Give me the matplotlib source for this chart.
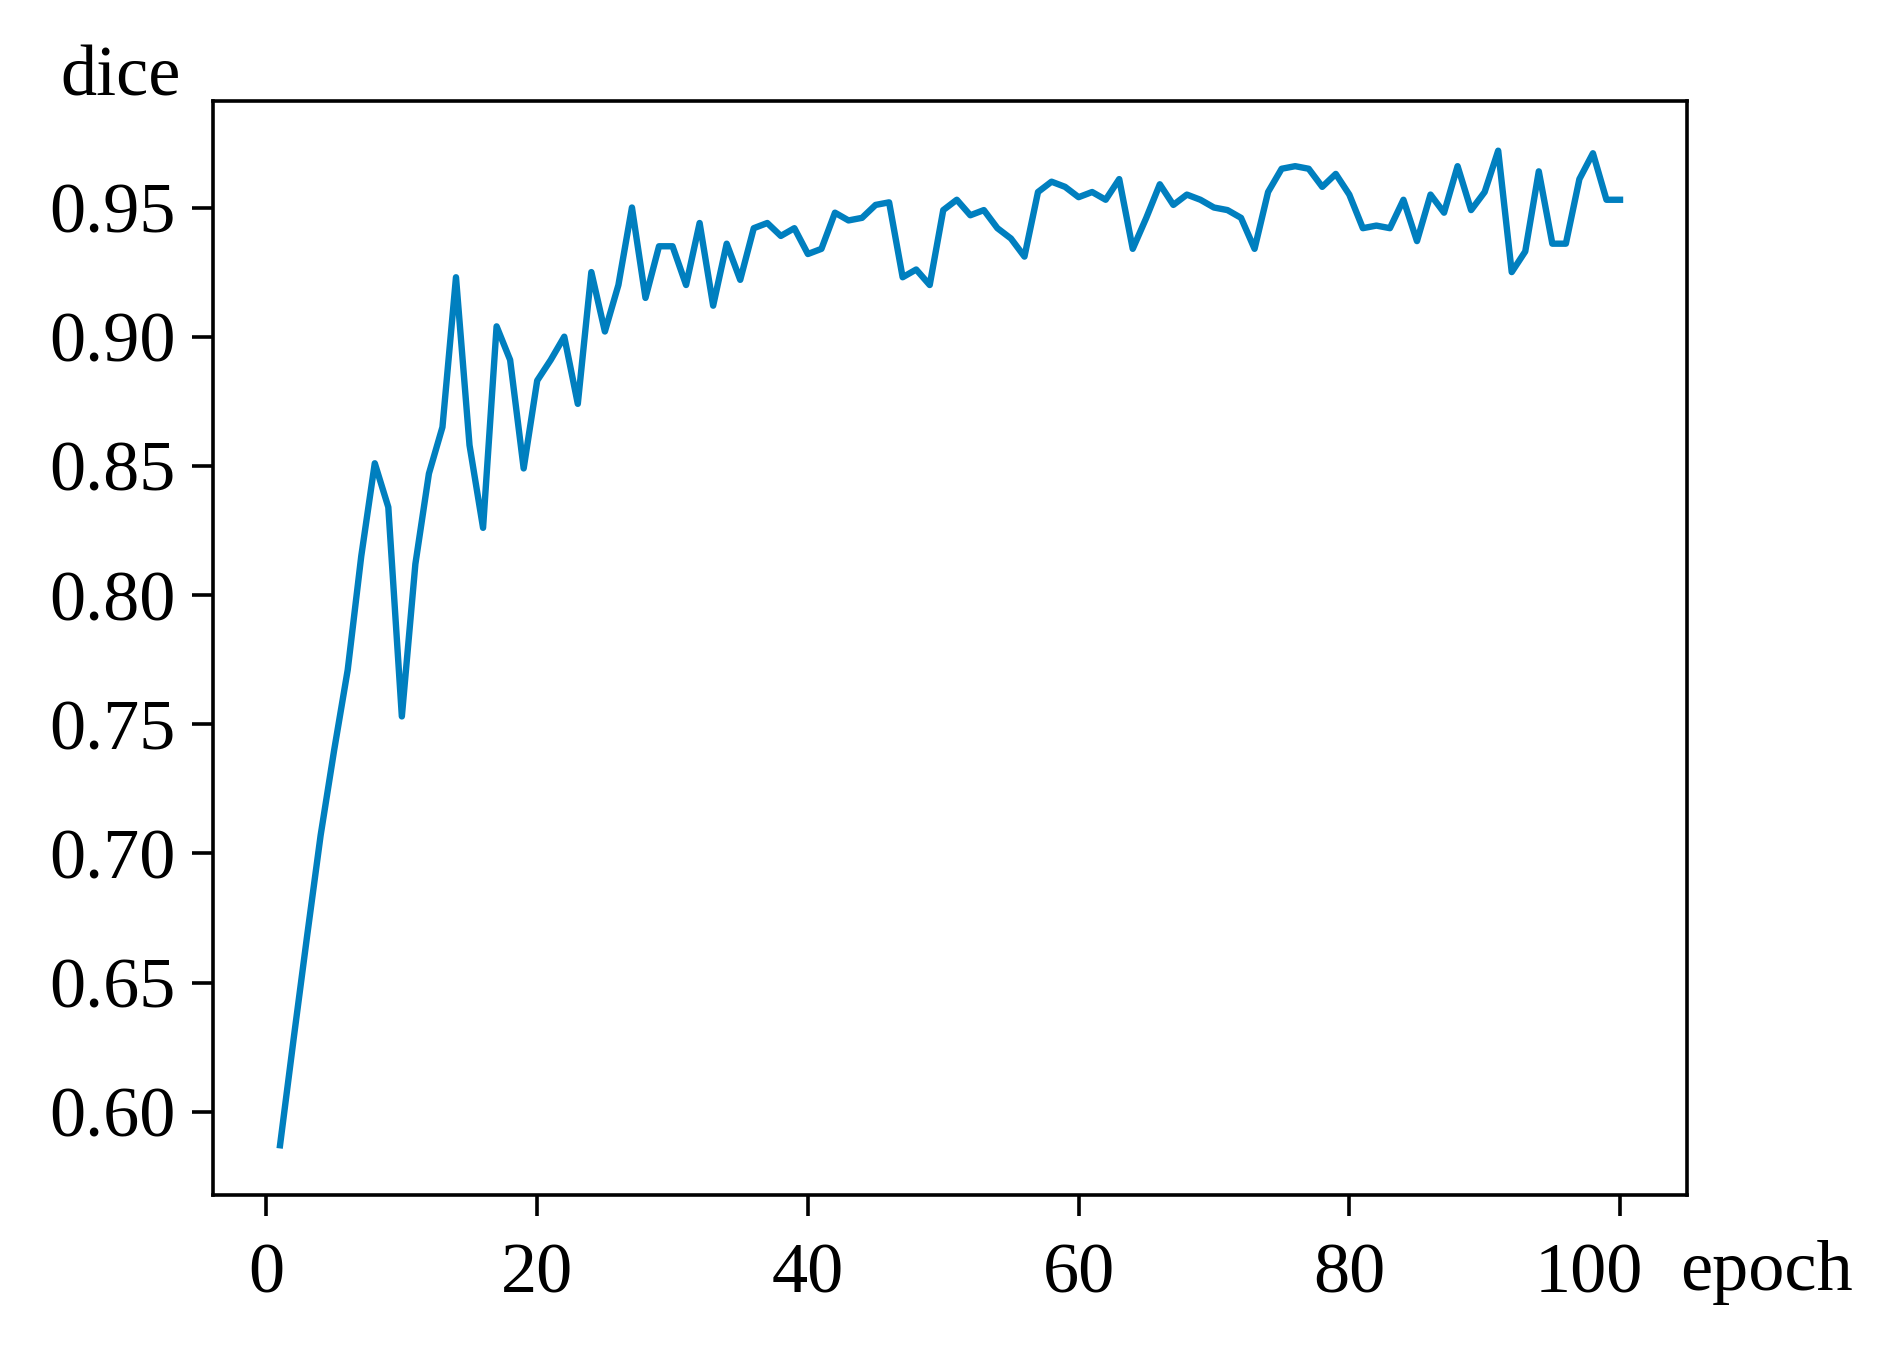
# dice curve over training epochs

import matplotlib
matplotlib.use('Agg')
import matplotlib.pyplot as plt
from matplotlib.transforms import ScaledTranslation

epochs = list(range(1, 101))

dice = [
    0.587, 0.628, 0.668, 0.707, 0.740, 0.771, 0.815, 0.851, 0.834, 0.753,
    0.812, 0.847, 0.865, 0.923, 0.858, 0.826, 0.904, 0.891, 0.849, 0.883,
    0.891, 0.900, 0.874, 0.925, 0.902, 0.920, 0.950, 0.915, 0.935, 0.935,
    0.920, 0.944, 0.912, 0.936, 0.922, 0.942, 0.944, 0.939, 0.942, 0.932,
    0.934, 0.948, 0.945, 0.946, 0.951, 0.952, 0.923, 0.926, 0.920, 0.949,
    0.953, 0.947, 0.949, 0.942, 0.938, 0.931, 0.956, 0.960, 0.958, 0.954,
    0.956, 0.953, 0.961, 0.934, 0.946, 0.959, 0.951, 0.955, 0.953, 0.950,
    0.949, 0.946, 0.934, 0.956, 0.965, 0.966, 0.965, 0.958, 0.963, 0.955,
    0.942, 0.943, 0.942, 0.953, 0.937, 0.955, 0.948, 0.966, 0.949, 0.956,
    0.972, 0.925, 0.933, 0.964, 0.936, 0.936, 0.961, 0.971, 0.953, 0.953,
]

xticks = [0, 20, 40, 60, 80, 100]
yticks = [0.60, 0.65, 0.70, 0.75, 0.80, 0.85, 0.90, 0.95]

plt.rcParams['font.family'] = ['Liberation Serif', 'DejaVu Serif']
plt.rcParams['font.size'] = 52

fig = plt.figure(figsize=(18.97, 13.46), dpi=100)
ax = fig.add_axes((0.1123, 0.1122, 0.777, 0.8128))

ax.plot(epochs, dice, color='#007FBF', linewidth=4.6)

ax.set_xticks(xticks)
ax.set_yticks(yticks)
ax.set_yticklabels(['{:.2f}'.format(v) for v in yticks])

for side in ax.spines.values():
    side.set_linewidth(2.6)
ax.tick_params(length=15, width=2.6)
ax.tick_params(axis='x', pad=19)
ax.tick_params(axis='y', pad=12)

# last x label sits a bit to the left, clear of 'epoch'
last = ax.get_xticklabels()[-1]
last.set_transform(last.get_transform() + ScaledTranslation(-0.31, 0, fig.dpi_scale_trans))

fig.text(0.0316, 0.929, 'dice', va='baseline', ha='left')
fig.text(0.8856, 0.0416, 'epoch', va='baseline', ha='left')

plt.savefig('out.png', dpi=100)
plt.close()
